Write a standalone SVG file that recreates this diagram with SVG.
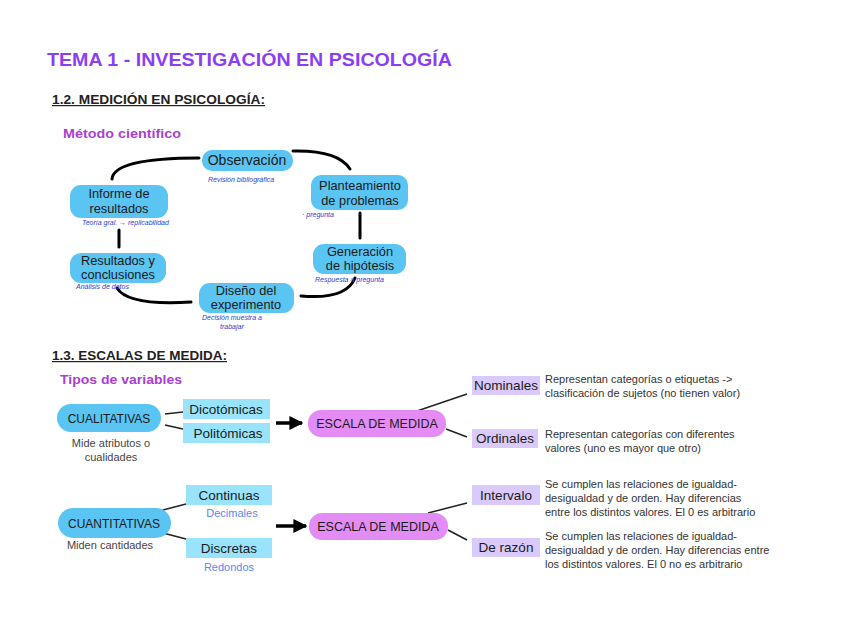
<svg xmlns="http://www.w3.org/2000/svg" width="848" height="619" viewBox="0 0 848 619">
<defs>
<marker id="ah" viewBox="0 0 10 10" refX="9" refY="5" markerWidth="4" markerHeight="4" orient="auto" markerUnits="strokeWidth"><path d="M0,0 L10,5 L0,10 z" fill="#000"/></marker>
</defs>
<style>
text{font-family:"Liberation Sans",Arial,sans-serif}
.title{font-size:19px;font-weight:bold;fill:#8b3ff2}
.sec{font-size:12px;font-weight:bold;fill:#222;text-decoration:underline}
.sub{font-size:13px;font-weight:bold;fill:#a93fd3}
.nb{fill:#5ac4f2}
.nt{font-size:14px;fill:#1a1a1a;text-anchor:middle}
.n2{font-size:12.8px;fill:#1a1a1a;text-anchor:middle}
.hand{font-size:7px;font-style:italic;fill:#2a3fd0}
.curve{fill:none;stroke:#000;stroke-width:3;stroke-linecap:round}
.thin{fill:none;stroke:#222;stroke-width:1.5}
.cyan{fill:#99e4fc}
.lav{fill:#dacafb}
.pink{fill:#e38cf5}
.bt{font-size:13.5px;fill:#1a1a1a;text-anchor:middle}
.desc{font-size:11px;fill:#333}
.note{font-size:11px;fill:#444;text-anchor:middle}
.blue{font-size:11px;fill:#5b86f3;text-anchor:middle}
.arrow{fill:none;stroke:#000;stroke-width:3.5}
</style>

<text class="title" x="47" y="66" textLength="405" lengthAdjust="spacingAndGlyphs">TEMA 1 - INVESTIGACIÓN EN PSICOLOGÍA</text>
<text class="sec" x="52" y="104" textLength="213" lengthAdjust="spacingAndGlyphs">1.2. MEDICIÓN EN PSICOLOGÍA:</text>
<text class="sub" x="63" y="138" textLength="118" lengthAdjust="spacingAndGlyphs">Método científico</text>

<g id="connectors">
<path class="curve" d="M112,179 Q114,158 199,158"/>
<path class="curve" d="M293,151 Q338,150 350,169"/>
<path class="curve" d="M360,213 L360,238"/>
<path class="curve" d="M355,278 Q346,300 301,296"/>
<path class="curve" d="M191,302 Q128,306 117,288"/>
<path class="curve" d="M119,230 L119,247"/>
<path class="thin" d="M165,414 L183,412"/>
<path class="thin" d="M165,425 L183,429"/>
<path class="arrow" d="M276,423 L302,423" marker-end="url(#ah)"/>
<path class="thin" d="M417,411 L467,394"/>
<path class="thin" d="M446,429 L467,437"/>
<path class="thin" d="M163,510 L186,504"/>
<path class="thin" d="M163,533 L186,539"/>
<path class="arrow" d="M276,526 L306,526" marker-end="url(#ah)"/>
<path class="thin" d="M428,513 L467,503"/>
<path class="thin" d="M448,530 L467,540"/>
</g>

<g id="observacion">
<rect class="nb" x="202" y="150" width="91" height="21" rx="10"/>
<text class="nt" x="247" y="165">Observación</text>
<text class="hand" x="208" y="182">Revisión bibliográfica</text>
</g>
<g id="planteamiento">
<rect class="nb" x="311" y="175" width="97" height="35" rx="10"/>
<text class="n2" x="360" y="190">Planteamiento</text>
<text class="n2" x="360" y="205">de problemas</text>
<text class="hand" x="302" y="217">·  pregunta</text>
</g>
<g id="generacion">
<rect class="nb" x="313" y="244" width="93" height="30" rx="11"/>
<text class="n2" x="360" y="256">Generación</text>
<text class="n2" x="360" y="270">de hipótesis</text>
<text class="hand" x="315" y="282">Respuesta a pregunta</text>
</g>
<g id="diseno">
<rect class="nb" x="199" y="283" width="95" height="30" rx="11"/>
<text class="n2" x="246" y="295">Diseño del</text>
<text class="n2" x="246" y="309">experimento</text>
<text class="hand" x="202" y="320">Decisión muestra a</text>
<text class="hand" x="220" y="329">trabajar</text>
</g>
<g id="resultados">
<rect class="nb" x="70" y="253" width="96" height="30" rx="11"/>
<text class="n2" x="118" y="265">Resultados y</text>
<text class="n2" x="118" y="279">conclusiones</text>
<text class="hand" x="76" y="289">Análisis de datos</text>
</g>
<g id="informe">
<rect class="nb" x="70" y="185" width="98" height="33" rx="11"/>
<text class="n2" x="119" y="198">Informe de</text>
<text class="n2" x="119" y="213">resultados</text>
<text class="hand" x="82" y="225">Teoría gral. → replicabilidad</text>
</g>

<text class="sec" x="52" y="360" textLength="175" lengthAdjust="spacingAndGlyphs">1.3. ESCALAS DE MEDIDA:</text>
<text class="sub" x="60" y="384" textLength="122" lengthAdjust="spacingAndGlyphs">Tipos de variables</text>

<g id="cualitativas">
<rect class="nb" x="57" y="404" width="104" height="28" rx="14"/>
<text class="nt" x="109" y="423" style="font-size:12px">CUALITATIVAS</text>
<text class="note" x="111" y="447">Mide atributos o</text>
<text class="note" x="111" y="461">cualidades</text>
</g>
<g id="dicotomicas">
<rect class="cyan" x="183" y="399" width="87" height="20"/>
<text class="bt" x="226" y="414">Dicotómicas</text>
</g>
<g id="politomicas">
<rect class="cyan" x="183" y="423" width="87" height="20"/>
<text class="bt" x="228" y="438">Politómicas</text>
</g>
<g id="escala1">
<rect class="pink" x="308" y="410" width="138" height="27" rx="13"/>
<text class="nt" x="377" y="428" style="font-size:12.5px">ESCALA DE MEDIDA</text>
</g>
<g id="nominales">
<rect class="lav" x="472" y="376" width="68" height="19"/>
<text class="bt" x="506" y="390">Nominales</text>
<text class="desc" x="545" y="383">Representan categorías o etiquetas -&gt;</text>
<text class="desc" x="545" y="397">clasificación de sujetos (no tienen valor)</text>
</g>
<g id="ordinales">
<rect class="lav" x="472" y="429" width="66" height="19"/>
<text class="bt" x="505" y="443">Ordinales</text>
<text class="desc" x="545" y="438">Representan categorías con diferentes</text>
<text class="desc" x="545" y="452">valores (uno es mayor que otro)</text>
</g>

<g id="cuantitativas">
<rect class="nb" x="58" y="508" width="113" height="30" rx="15"/>
<text class="nt" x="114" y="528" style="font-size:12px">CUANTITATIVAS</text>
<text class="note" x="110" y="549">Miden cantidades</text>
</g>
<g id="continuas">
<rect class="cyan" x="186" y="485" width="86" height="20"/>
<text class="bt" x="229" y="500">Continuas</text>
<text class="blue" x="232" y="517">Decimales</text>
</g>
<g id="discretas">
<rect class="cyan" x="186" y="538" width="86" height="20"/>
<text class="bt" x="229" y="553">Discretas</text>
<text class="blue" x="229" y="571">Redondos</text>
</g>
<g id="escala2">
<rect class="pink" x="309" y="513" width="139" height="27" rx="13"/>
<text class="nt" x="378" y="531" style="font-size:12.5px">ESCALA DE MEDIDA</text>
</g>
<g id="intervalo">
<rect class="lav" x="472" y="485" width="68" height="20"/>
<text class="bt" x="506" y="500">Intervalo</text>
<text class="desc" x="545" y="488">Se cumplen las relaciones de igualdad-</text>
<text class="desc" x="545" y="502">desigualdad y de orden. Hay diferencias</text>
<text class="desc" x="545" y="516">entre los distintos valores. El 0 es arbitrario</text>
</g>
<g id="derazon">
<rect class="lav" x="472" y="538" width="68" height="19"/>
<text class="bt" x="506" y="552">De razón</text>
<text class="desc" x="545" y="540">Se cumplen las relaciones de igualdad-</text>
<text class="desc" x="545" y="554">desigualdad y de orden. Hay diferencias entre</text>
<text class="desc" x="545" y="568">los distintos valores. El 0 no es arbitrario</text>
</g>
</svg>
